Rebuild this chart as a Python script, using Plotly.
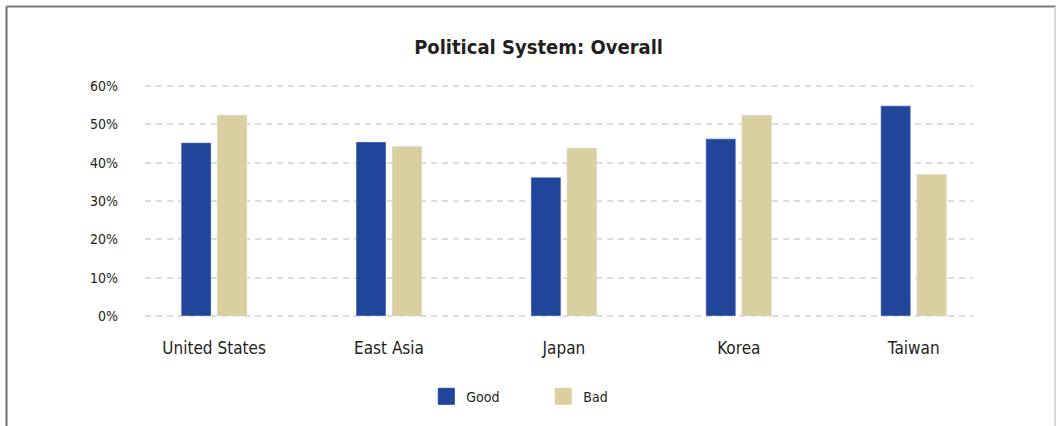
import plotly.graph_objects as go

# Survey shares by region
regions = ["United States", "East Asia", "Japan", "Korea", "Taiwan"]
good = [0.452, 0.454, 0.362, 0.462, 0.548]
bad = [0.524, 0.443, 0.438, 0.524, 0.370]

BLUE = "#20459a"
TAN = "#dad09f"
TEXT = "#231f20"
FONT = "DejaVu Sans Condensed, Roboto, sans-serif"

fig = go.Figure()

fig.add_trace(go.Bar(x=regions, y=good, name="Good", marker_color=BLUE,
                     showlegend=False, legendgroup="good"))
fig.add_trace(go.Bar(x=regions, y=bad, name="Bad", marker_color=TAN,
                     showlegend=False, legendgroup="bad"))

# Legend swatches as square markers (larger than default bar swatches)
for name, col in [("Good", BLUE), ("Bad", TAN)]:
    fig.add_trace(go.Scatter(x=[None], y=[None], mode="markers", name=name,
                             legendgroup=name.lower(),
                             marker=dict(symbol="square", size=16, color=col,
                                         line=dict(color=col, width=1))))

# Outer frame of the panel
frame = [
    dict(x0=-0.1673, x1=-0.1673, y0=1.3312, y1=-0.6, color="#6e6e6e", width=2),
    dict(x0=-0.1673, x1=1.2, y0=1.3312, y1=1.3312, color="#7a7a7a", width=2),
    dict(x0=1.0993, x1=1.0993, y0=1.3312, y1=-0.6, color="#d6d6d6", width=2),
]
for f in frame:
    fig.add_shape(type="line", xref="paper", yref="paper",
                  x0=f["x0"], x1=f["x1"], y0=f["y0"], y1=f["y1"],
                  line=dict(color=f["color"], width=f["width"]))

fig.update_layout(
    width=1056, height=426,
    margin=dict(l=145, r=83, t=84, b=108),
    paper_bgcolor="white", plot_bgcolor="white",
    font=dict(family=FONT, color=TEXT),
    title=dict(text="<b>Political System: Overall</b>", x=0.51, xref="container",
               y=0.8885, yref="container", yanchor="middle", xanchor="center",
               font=dict(family=FONT, size=20, color=TEXT)),
    barmode="group", bargap=0.589, bargroupgap=0.167,
    legend=dict(orientation="h", x=0.481, xanchor="center", y=-0.3363,
                yanchor="middle", font=dict(size=14, color=TEXT),
                entrywidth=72, entrywidthmode="pixels",
                bgcolor="rgba(0,0,0,0)"),
    xaxis=dict(type="category", range=[-0.395, 4.339], showgrid=False,
               showline=False, zeroline=False, ticks="",
               tickfont=dict(size=17, color=TEXT), ticklabelstandoff=18),
    yaxis=dict(range=[-0.005, 0.605], tickvals=[0, 0.1, 0.2, 0.3, 0.4, 0.5, 0.6],
               tickformat=".0%", showgrid=True, gridcolor="#dcdcdc",
               gridwidth=2, griddash="6px,5px", zeroline=False, showline=False,
               ticks="", tickfont=dict(size=14, color=TEXT),
               ticklabelstandoff=26),
)

fig.write_html("out.html")
